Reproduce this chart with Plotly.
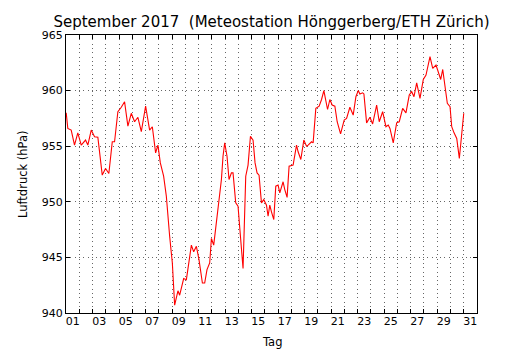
import plotly.graph_objects as go

# time in day-of-month units (1.0 = 1 Sep 00:00)
day = [1.015, 1.136, 1.393, 1.642, 1.891, 2.148, 2.473, 2.647, 2.903, 3.153,
       3.402, 3.530, 3.734, 3.983, 4.233, 4.490, 4.663, 4.912, 5.169, 5.418,
       5.668, 5.924, 6.174, 6.423, 6.680, 7.005, 7.307, 7.511, 7.760, 7.934,
       8.115, 8.364, 8.568, 8.818, 9.021, 9.195, 9.444, 9.573, 9.875, 10.079,
       10.457, 10.630, 10.834, 11.031, 11.287, 11.461, 11.635, 11.839, 11.967, 12.141,
       12.345, 12.541, 12.722, 12.843, 12.971, 13.145, 13.296, 13.477, 13.598, 13.802,
       13.976, 14.157, 14.354, 14.557, 14.731, 14.912, 15.109, 15.260, 15.411, 15.562,
       15.743, 15.917, 16.121, 16.242, 16.370, 16.498, 16.672, 16.823, 16.997, 17.125,
       17.374, 17.502, 17.676, 17.827, 18.130, 18.387, 18.508, 18.712, 18.938, 19.142,
       19.263, 19.520, 19.640, 19.844, 20.093, 20.275, 20.449, 20.728, 20.902, 21.076,
       21.280, 21.453, 21.710, 21.982, 22.163, 22.412, 22.662, 22.866, 23.040, 23.168,
       23.372, 23.470, 23.674, 23.924, 24.128, 24.430, 24.626, 24.883, 25.132, 25.305,
       25.434, 25.683, 25.940, 26.136, 26.393, 26.642, 26.891, 27.073, 27.247, 27.451,
       27.700, 27.949, 28.153, 28.455, 28.659, 28.909, 29.082, 29.263, 29.415, 29.588,
       29.761, 29.966, 30.094, 30.268, 30.472, 30.668, 30.849, 31.0]
pressure = [958.0, 956.6, 956.45, 955.1, 956.2, 955.1, 955.55, 955.1, 956.45, 955.85,
            955.8, 954.65, 952.4, 953.0, 952.55, 955.4, 955.4, 958.1, 958.5, 959.0,
            956.8, 957.96, 957.2, 957.6, 956.3, 958.6, 956.45, 956.75, 954.4, 955.1,
            953.5, 952.3, 950.5, 946.9, 944.5, 940.7, 942.0, 941.6, 943.1, 943.0,
            946.1, 945.5, 946.0, 944.8, 942.7, 942.7, 943.9, 944.5, 946.7, 946.1,
            948.1, 950.2, 952.0, 954.1, 955.3, 954.1, 952.0, 952.6, 952.6, 949.9,
            949.6, 946.9, 944.0, 952.3, 953.3, 955.9, 955.55, 953.5, 952.6, 952.4,
            949.9, 950.2, 949.7, 948.7, 949.7, 949.1, 948.4, 951.4, 951.5, 950.8,
            951.8, 951.1, 950.4, 953.2, 953.3, 955.1, 954.5, 953.8, 955.55, 955.0,
            955.1, 955.4, 955.3, 958.4, 958.6, 959.2, 960.0, 958.3, 959.2, 958.7,
            958.6, 957.2, 956.1, 957.35, 957.5, 958.5, 957.8, 959.45, 960.0, 959.7,
            959.8, 959.7, 957.1, 957.6, 957.0, 958.7, 957.2, 958.1, 956.75, 956.9,
            956.6, 955.3, 957.1, 957.2, 958.4, 958.0, 959.6, 959.9, 959.45, 960.7,
            959.3, 961.0, 961.4, 963.05, 962.0, 962.3, 961.55, 961.0, 961.9, 960.35,
            958.85, 958.55, 956.75, 956.2, 955.7, 953.9, 955.85, 957.96]

day_boundaries = list(range(2, 32))          # tick marks / grid at midnight
tick_days = [d + 0.5 for d in range(1, 32, 2)]  # labels at noon
tick_labels = ["%02d" % d for d in range(1, 32, 2)]
y_ticks = [940, 945, 950, 955, 960, 965]

FONT = "DejaVu Sans"
GRID = "rgba(0,0,0,0.6)"
DASH = "1px,3.3px"

fig = go.Figure()
fig.add_trace(go.Scatter(x=day, y=pressure, mode="lines",
                         line=dict(color="#ff0000", width=1.1),
                         hoverinfo="skip", showlegend=False))
# invisible trace to anchor the label axis
fig.add_trace(go.Scatter(x=[tick_days[0]], y=[y_ticks[0]], xaxis="x2", mode="markers",
                         marker=dict(opacity=0), hoverinfo="skip", showlegend=False))

fig.update_layout(
    width=530, height=350,
    margin=dict(l=66, r=53, t=35, b=37, autoexpand=False),
    paper_bgcolor="white", plot_bgcolor="white",
    font=dict(family=FONT, size=11, color="black"),
    title=dict(text="September 2017  (Meteostation Hönggerberg/ETH Zürich)",
               x=0.5, xref="paper", xanchor="center",
               y=1 - 22 / 350, yref="container", yanchor="middle",
               font=dict(family=FONT, size=15, color="black")),
    showlegend=False,
    xaxis=dict(range=[1, 32], tickmode="array", tickvals=day_boundaries,
               showticklabels=False, ticks="inside", ticklen=4, tickcolor="black",
               tickwidth=1, showgrid=True, gridcolor=GRID, gridwidth=1,
               griddash=DASH, zeroline=False, showline=True,
               linecolor="black", linewidth=1, mirror="ticks"),
    xaxis2=dict(range=[1, 32], overlaying="x", side="bottom", anchor="y",
                tickmode="array", tickvals=tick_days, ticktext=tick_labels,
                ticks="", showgrid=False, zeroline=False, showline=False,
                tickfont=dict(family=FONT, size=11, color="black")),
    yaxis=dict(range=[940, 965], tickmode="array", tickvals=y_ticks,
               ticks="inside", ticklen=4, tickcolor="black", tickwidth=1,
               showgrid=True, gridcolor=GRID, gridwidth=1, griddash=DASH,
               zeroline=False, showline=True, linecolor="black", linewidth=1,
               mirror="ticks", tickfont=dict(family=FONT, size=11, color="black")),
)

fig.add_annotation(text="Tag", xref="paper", yref="paper", x=0.5, y=0,
                   yshift=-29, xanchor="center", yanchor="middle", showarrow=False,
                   font=dict(family=FONT, size=11.5, color="black"))
fig.add_annotation(text="Luftdruck (hPa)", xref="paper", yref="paper", x=0, y=0.5,
                   xshift=-43, textangle=-90, xanchor="center", yanchor="middle",
                   showarrow=False, font=dict(family=FONT, size=11.5, color="black"))

fig.write_html("out.html", config={"displayModeBar": False},
               post_script="document.body.style.margin='0';document.body.style.padding='0';")
